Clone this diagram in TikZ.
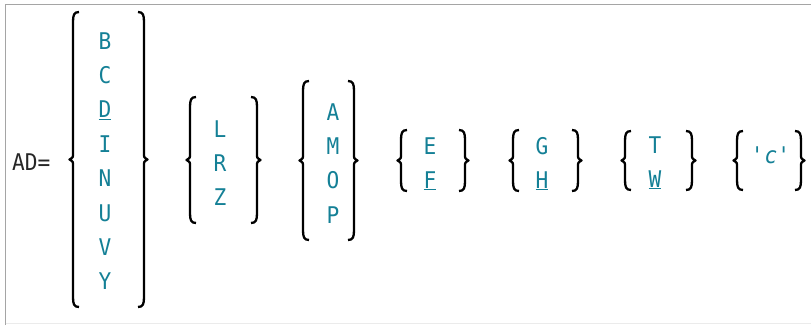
\documentclass[tikz,border=0pt]{standalone}
\usepackage{fontspec}
\usepackage{tikz}
\newfontfamily\synfont{DejaVu Sans Mono}[FakeStretch=0.92]
\definecolor{synteal}{RGB}{20,128,150}
\definecolor{frameg}{RGB}{165,165,165}
\tikzset{
 opt/.style={anchor=base,text=synteal,inner sep=0pt,font=\synfont\fontsize{23}{28}\selectfont},
 lbl/.style={anchor=base west,text=black!85,inner sep=0pt,font=\synfont\fontsize{23}{28}\selectfont},
 curlbrace/.style={line width=2.3pt,black,line join=round}
}
% brace: x, top, bottom, side (1 = left brace, -1 = right brace)
\newcommand\curl[4]{%
 \draw[curlbrace] ({#1+6*#4},#2) .. controls ({#1+1*#4},#2) and (#1,{#2+3}) .. (#1,{#2+10})
  -- (#1,{(#2+#3)/2-6}) .. controls (#1,{(#2+#3)/2-2}) .. ({#1-3.5*#4},{(#2+#3)/2})
  .. controls (#1,{(#2+#3)/2+2}) .. (#1,{(#2+#3)/2+6})
  -- (#1,{#3-10}) .. controls (#1,{#3-3}) and ({#1+1*#4},#3) .. ({#1+6*#4},#3);}
\begin{document}
\begin{tikzpicture}[x=1pt,y=-1pt]
 \useasboundingbox (0,0) rectangle (811,325);
 \draw[frameg,line width=1.5pt] (5.5,325) -- (5.5,4.5) -- (811,4.5);
 \draw[black!8,line width=1pt] (5.5,323.5) -- (811,323.5);

 \node at (12,170) [lbl] (ad) {AD=};

 \curl{73}{12}{307}{1}
 \node at (105,49) [opt] (b) {B};
 \node at (105,83.4) [opt] (c) {C};
 \node at (105,117.8) [opt] (d) {\underline{D}};
 \node at (105,152.2) [opt] (i) {I};
 \node at (105,186.6) [opt] (n) {N};
 \node at (105,221) [opt] (u) {U};
 \node at (105,255.4) [opt] (v) {V};
 \node at (105,289.8) [opt] (y) {Y};
 \curl{144}{12}{307}{-1}

 \curl{190}{97}{223}{1}
 \node at (220,137) [opt] (l) {L};
 \node at (220,171) [opt] (r) {R};
 \node at (220,205) [opt] (z) {Z};
 \curl{257}{97}{223}{-1}

 \curl{303}{81}{240}{1}
 \node at (333,120) [opt] (a) {A};
 \node at (333,154.3) [opt] (m) {M};
 \node at (333,188.7) [opt] (o) {O};
 \node at (333,223) [opt] (p) {P};
 \curl{354}{81}{240}{-1}

 \curl{401}{130}{191}{1}
 \node at (430,154) [opt] (e) {E};
 \node at (430,188) [opt] (f) {\underline{F}};
 \curl{465}{130}{191}{-1}

 \curl{513}{130}{191}{1}
 \node at (542,154) [opt] (g) {G};
 \node at (542,188) [opt] (h) {\underline{H}};
 \curl{578}{130}{191}{-1}

 \curl{625}{131}{190}{1}
 \node at (655,153) [opt] (t) {T};
 \node at (655,187) [opt] (w) {\underline{W}};
 \curl{692}{131}{190}{-1}

 \curl{737}{131}{190}{1}
 \node at (771,163) [opt] (ch) {\textquotesingle\textit{c}\textquotesingle};
 \curl{801}{131}{190}{-1}
\end{tikzpicture}
\end{document}
